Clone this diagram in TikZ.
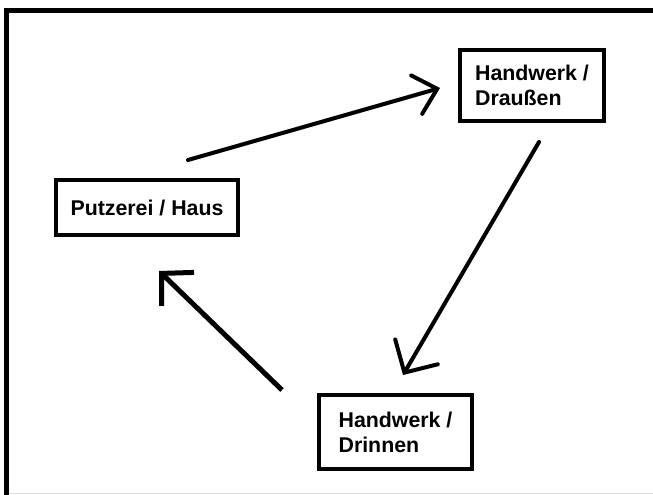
\documentclass[tikz,border=0pt]{standalone}
\usepackage{fontspec}
\setmainfont{Liberation Sans}
\usetikzlibrary{arrows.meta}
\begin{document}
% one unit = one pixel (0.75pt); y grows downwards
\begin{tikzpicture}[x=0.75pt,y=-0.75pt,
  box/.style={draw=black, line width=3.4pt, fill=white, inner sep=0pt,
    align=left, font=\fontsize{16pt}{18.75pt}\selectfont\bfseries},
  flow/.style={line width=3pt, line cap=round,
    -{Straight Barb[length=18pt,width=37pt,line cap=round]}},
]
\useasboundingbox (0,0) rectangle (653,495);
\fill[white] (0,0) rectangle (653,495);

% frame
\draw[line width=3.5pt, line join=miter] (653,10.7) -- (6.3,10.7) -- (6.3,495);
\draw[black!13, line width=0.75pt] (8.5,493.5) -- (653,493.5);

% stations
\node[box, minimum width=136.5pt, minimum height=41.25pt] (haus) at (147,207.5) {Putzerei / Haus};
\node[box, minimum width=108pt, minimum height=53.25pt] (draussen) at (532,85.5) {Handwerk /\\Draußen};
\node[box, minimum width=114.75pt, minimum height=55.5pt] (drinnen) at (395.5,432) {Handwerk /\\Drinnen};

% arrow end points
\coordinate (a1s) at (188,160);
\coordinate (a1e) at (440,88);
\coordinate (a2s) at (539,142);
\coordinate (a2e) at (403,375);
\coordinate (a3s) at (282,390);
\coordinate (a3e) at (159,271);

\draw[flow, -{Straight Barb[length=16pt,width=30pt,line cap=round]}] (a1s) -- (a1e);
\draw[flow] (a2s) -- (a2e);
\draw[flow, line width=3.75pt, line cap=butt,
  -{Straight Barb[length=17pt,width=35pt]}] (a3s) -- (a3e);
\end{tikzpicture}
\end{document}
